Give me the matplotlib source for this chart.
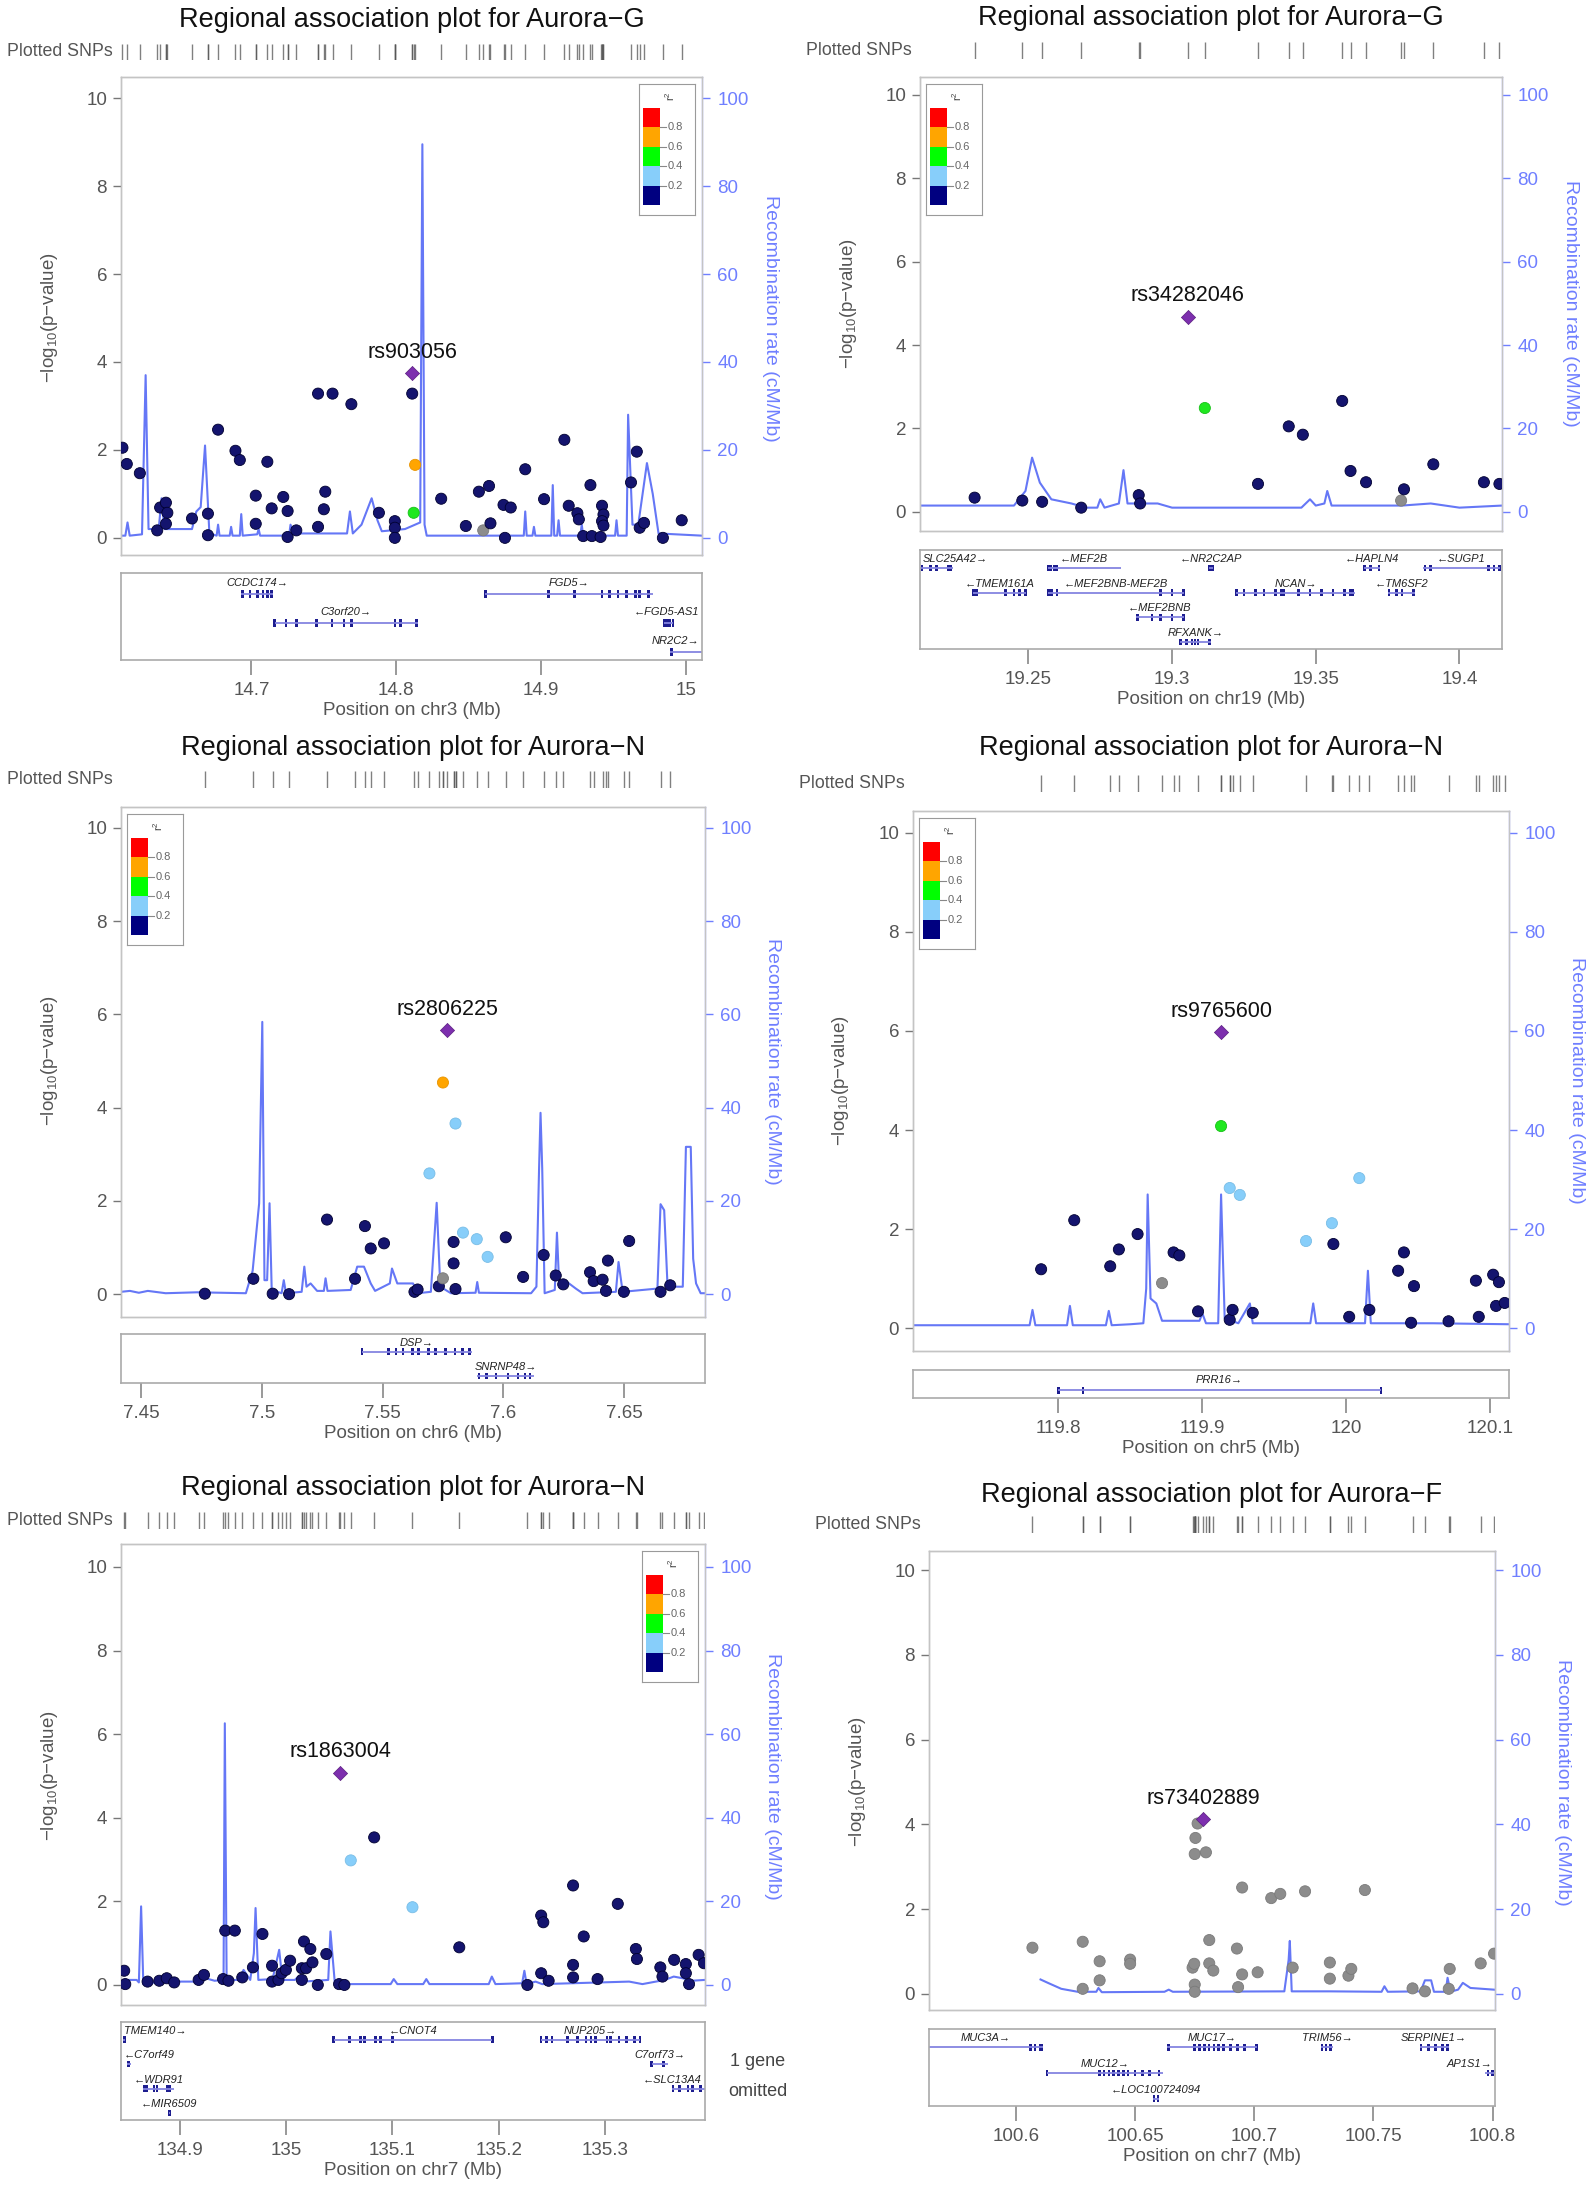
import matplotlib
matplotlib.use("Agg")
import matplotlib.pyplot as plt
from matplotlib.patches import Rectangle

plt.rcParams['font.family'] = ['Liberation Sans', 'DejaVu Sans']
plt.rcParams['mathtext.default'] = 'regular'

# ---------------- data ----------------
# panel 1: Aurora-G, chr3
p1_x = [14.611, 14.614, 14.623, 14.635, 14.637, 14.641, 14.642, 14.641, 14.659, 14.670, 14.670,
        14.677, 14.689, 14.692, 14.703, 14.703, 14.711, 14.714, 14.722, 14.725, 14.725, 14.731,
        14.746, 14.746, 14.750, 14.751, 14.756, 14.769, 14.788, 14.799, 14.799, 14.799, 14.811,
        14.813, 14.812, 14.831, 14.848, 14.860, 14.857, 14.864, 14.865, 14.874, 14.879, 14.875,
        14.889, 14.902, 14.916, 14.919, 14.925, 14.926, 14.929, 14.934, 14.935, 14.942, 14.943,
        14.942, 14.943, 14.941, 14.962, 14.966, 14.968, 14.971, 14.984, 14.997]
p1_y = [2.05, 1.68, 1.47, 0.17, 0.69, 0.80, 0.57, 0.32, 0.44, 0.55, 0.06,
        2.46, 1.98, 1.77, 0.96, 0.32, 1.73, 0.67, 0.93, 0.61, 0.02, 0.17,
        3.28, 0.25, 0.65, 1.05, 3.28, 3.04, 0.57, 0.38, 0.23, 0.00, 3.28,
        1.66, 0.57, 0.89, 0.27, 0.17, 1.05, 1.18, 0.33, 0.75, 0.69, 0.00,
        1.56, 0.88, 2.23, 0.73, 0.56, 0.42, 0.04, 1.20, 0.04, 0.73, 0.53,
        0.38, 0.28, 0.02, 1.26, 1.96, 0.23, 0.34, 0.00, 0.40]
p1_ld = "nnnnnnnnnnn" "nnnnnnnnnnn" "nnnnnnnnnnn" "ognnxnnnnnn" "nnnnnnnnnnn" "nnnnnnnnn"
p1_lead = (14.811, 3.74, "rs903056")
p1_rec_x = [14.610, 14.613, 14.6145, 14.616, 14.6245, 14.627, 14.629, 14.636, 14.638, 14.640,
            14.659, 14.662, 14.665, 14.668, 14.671, 14.676, 14.677, 14.678, 14.685, 14.686,
            14.687, 14.692, 14.693, 14.694, 14.704, 14.705, 14.706, 14.726, 14.727, 14.729,
            14.766, 14.768, 14.770, 14.776, 14.783, 14.787, 14.790, 14.806, 14.8165, 14.818,
            14.8195, 14.821, 14.888, 14.889, 14.890, 14.894, 14.895, 14.896, 14.907, 14.908,
            14.909, 14.911, 14.912, 14.913, 14.927, 14.928, 14.929, 14.951, 14.952, 14.953,
            14.959, 14.960, 14.963, 14.967, 14.970, 14.973, 14.977, 14.981, 15.011]
p1_rec_y = [0.5, 0.5, 3.5, 0.5, 0.8, 37, 2, 2, 9, 2,
            2, 6, 7, 21, 1, 0.5, 3, 0.5, 0.5, 2.5,
            0.5, 0.5, 5.4, 0.5, 0.8, 2, 0.5, 0.5, 3, 1,
            1, 6, 1, 3, 9, 4, 1.5, 2, 3.5, 89.5,
            3, 0.5, 0.5, 6, 0.5, 0.5, 2.5, 0.5, 0.5, 12,
            0.5, 0.5, 4, 0.5, 0.5, 3, 0.5, 0.5, 4, 0.5,
            0.5, 28, 3, 3, 10, 17, 10, 1, 0.5]
p1_genes = [
    ("CCDC174", 14.693, 14.715, 0, 1, [14.694, 14.699, 14.704, 14.708, 14.711, 14.714]),
    ("FGD5", 14.8615, 14.977, 0, 1, [14.8615, 14.905, 14.923, 14.942, 14.947, 14.953, 14.959, 14.965, 14.968, 14.974]),
    ("C3orf20", 14.716, 14.815, 1, 1, [14.716, 14.724, 14.731, 14.745, 14.7555, 14.764, 14.769, 14.799, 14.803, 14.814]),
    ("FGD5-AS1", 14.985, 14.991, 1, -1, [14.985, 14.987, 14.989, 14.991]),
    ("NR2C2", 14.989, 15.011, 2, 1, [14.990]),
]

# panel 2: Aurora-G, chr19
p2_x = [19.2313, 19.2479, 19.2548, 19.2684, 19.2884, 19.2889, 19.3299, 19.3406, 19.3455, 19.3592,
        19.3621, 19.3675, 19.3797, 19.3807, 19.3909, 19.4085, 19.4139, 19.3114]
p2_y = [0.34, 0.27, 0.24, 0.10, 0.40, 0.20, 0.67, 2.05, 1.85, 2.66,
        0.98, 0.71, 0.27, 0.54, 1.14, 0.71, 0.67, 2.49]
p2_ld = "nnnnnnnnnn" "nnxnnnng"
p2_lead = (19.3055, 4.68, "rs34282046")
p2_rec_x = [19.2123, 19.245, 19.249, 19.2513, 19.254, 19.258, 19.265, 19.270, 19.274, 19.275,
            19.2765, 19.2815, 19.2831, 19.2845, 19.295, 19.300, 19.345, 19.348, 19.350, 19.353,
            19.354, 19.3555, 19.361, 19.380, 19.390, 19.400, 19.4148]
p2_rec_y = [1.5, 1.5, 5, 13, 7, 3, 2, 1, 1, 3,
            1, 2, 10, 2, 2, 1, 1, 3, 1.5, 2,
            5, 1.5, 1.5, 1.5, 2, 1, 1.5]
p2_genes = [
    ("SLC25A42", 19.2123, 19.2239, 0, 1, [19.213, 19.216, 19.218, 19.222, 19.223]),
    ("MEF2B", 19.2568, 19.2821, 0, -1, [19.2570, 19.2578, 19.2590, 19.2600]),
    ("NR2C2AP", 19.3129, 19.3142, 0, -1, [19.3130, 19.3135, 19.3140]),
    ("HAPLN4", 19.3669, 19.3724, 0, -1, [19.367, 19.369, 19.372]),
    ("SUGP1", 19.3874, 19.4141, 0, -1, [19.388, 19.390, 19.410, 19.412, 19.414]),
    ("TMEM161A", 19.2308, 19.2492, 1, -1, [19.231, 19.232, 19.242, 19.245, 19.247, 19.249]),
    ("MEF2BNB-MEF2B", 19.2568, 19.3040, 1, -1, [19.257, 19.258, 19.260, 19.296, 19.300, 19.304]),
    ("NCAN", 19.3224, 19.3635, 1, 1, [19.3225, 19.325, 19.329, 19.332, 19.336, 19.338, 19.339,
                                      19.344, 19.348, 19.352, 19.356, 19.360, 19.362, 19.363]),
    ("TM6SF2", 19.3751, 19.3847, 1, -1, [19.3755, 19.378, 19.380, 19.384]),
    ("MEF2BNB", 19.2875, 19.3040, 2, -1, [19.288, 19.293, 19.296, 19.300, 19.304]),
    ("RFXANK", 19.3026, 19.3135, 3, 1, [19.303, 19.305, 19.307, 19.308, 19.309, 19.313]),
]

# panel 3: Aurora-N, chr6
p3_x = [7.4764, 7.4965, 7.5045, 7.5113, 7.5270, 7.5386, 7.5427, 7.5451, 7.5506, 7.5632,
        7.5645, 7.5694, 7.5733, 7.5750, 7.5750, 7.5802, 7.5794, 7.5794, 7.5802, 7.5833,
        7.5890, 7.5935, 7.6010, 7.6082, 7.6167, 7.6217, 7.6248, 7.6359, 7.6374, 7.6411,
        7.6433, 7.6425, 7.6499, 7.6521, 7.6651, 7.6691]
p3_y = [0.01, 0.33, 0.01, 0.00, 1.60, 0.33, 1.46, 0.98, 1.09, 0.05,
        0.10, 2.59, 0.17, 0.34, 4.54, 3.66, 1.12, 0.66, 0.11, 1.32,
        1.18, 0.80, 1.22, 0.37, 0.84, 0.40, 0.21, 0.47, 0.28, 0.31,
        0.72, 0.07, 0.05, 1.14, 0.05, 0.19]
p3_ld = "nnnnnnnnnn" "nbnxobnnnb" "bbnnnnnnnn" "nnnnnn"
p3_lead = (7.5768, 5.66, "rs2806225")
p3_rec_x = [7.4417, 7.4454, 7.4491, 7.4528, 7.4602, 7.4731, 7.4934, 7.4962, 7.4989, 7.5002,
            7.5011, 7.5022, 7.5032, 7.5041, 7.5082, 7.5091, 7.5100, 7.5165, 7.5176, 7.5185,
            7.5202, 7.5229, 7.5257, 7.5264, 7.5272, 7.5368, 7.5395, 7.5423, 7.5451, 7.5469,
            7.5530, 7.5539, 7.5561, 7.5626, 7.5645, 7.5700, 7.5724, 7.5739, 7.5783, 7.5885,
            7.5892, 7.5899, 7.6115, 7.6137, 7.6148, 7.6154, 7.6161, 7.6171, 7.6213, 7.6222,
            7.6231, 7.6254, 7.6300, 7.6328, 7.6466, 7.6477, 7.6494, 7.6638, 7.6651, 7.6666,
            7.6680, 7.6743, 7.6756, 7.6776, 7.6786, 7.6798, 7.6817, 7.6835]
p3_rec_y = [0.5, 0.7, 0.3, 0.7, 0.2, 0.4, 0.2, 5, 19.5, 58.4,
            3, 3, 19.5, 0.9, 0.2, 3, 0.2, 0.5, 5.9, 1.6,
            2.3, 0.7, 0.7, 3.4, 0.7, 0.9, 5.9, 5.9, 2.3, 0.7,
            2.3, 5.5, 2.3, 2.3, 0.2, 0.5, 19.6, 1.6, 0.2, 0.3,
            2.6, 0.3, 0.2, 1.6, 27, 38.9, 27, 0.2, 0.9, 13.2,
            2.3, 3, 1.2, 0.2, 0.5, 6.9, 0.5, 1.2, 19.3, 18,
            1.6, 1.6, 31.6, 31.6, 7.6, 2.3, 0.2, 0.2]
p3_genes = [
    ("DSP", 7.5415, 7.5869, 0, 1, [7.5415, 7.5525, 7.5555, 7.5585, 7.5625, 7.5650, 7.5690,
                                   7.5720, 7.5760, 7.5800, 7.5830, 7.5860]),
    ("SNRNP48", 7.5893, 7.6125, 1, 1, [7.590, 7.593, 7.597, 7.602, 7.606, 7.609, 7.611]),
]

# panel 4: Aurora-N, chr5
p4_x = [119.913, 119.919, 119.926, 120.009, 119.972, 119.990, 119.788, 119.811, 119.836, 119.842,
        119.855, 119.880, 119.884, 119.872, 119.897, 119.919, 119.921, 119.935, 119.991, 120.002,
        120.016, 120.040, 120.036, 120.047, 120.045, 120.071, 120.090, 120.092, 120.102, 120.106,
        120.104, 120.110]
p4_y = [4.08, 2.83, 2.69, 3.03, 1.76, 2.12, 1.19, 2.18, 1.25, 1.59,
        1.90, 1.53, 1.47, 0.91, 0.34, 0.17, 0.37, 0.31, 1.70, 0.23,
        0.37, 1.53, 1.16, 0.85, 0.11, 0.14, 0.96, 0.23, 1.08, 0.93,
        0.45, 0.51]
p4_ld = "gbbbbbnnnn" "nnnxnnnnnn" "nnnnnnnnnn" "nn"
p4_lead = (119.913, 5.98, "rs9765600")
p4_rec_x = [119.699, 119.748, 119.780, 119.782, 119.784, 119.806, 119.808, 119.810, 119.833, 119.835,
            119.837, 119.850, 119.859, 119.861, 119.862, 119.864, 119.868, 119.872, 119.898, 119.900,
            119.9025, 119.911, 119.913, 119.9155, 119.925, 119.933, 119.935, 119.975, 119.977, 119.979,
            120.013, 120.015, 120.017, 120.060, 120.113]
p4_rec_y = [0.6, 0.6, 0.6, 3.7, 0.6, 0.6, 4.5, 0.6, 0.6, 3.5,
            0.6, 0.8, 1, 8, 27, 6, 5, 1.5, 1.5, 3,
            1, 1, 27, 2, 1, 5, 1, 1, 5, 1,
            1, 11.6, 1, 1, 0.8]
p4_genes = [
    ("PRR16", 119.800, 120.024, 0, 1, [119.800, 119.817, 120.024]),
]

# panel 5: Aurora-N, chr7
p5_x = [134.848, 134.849, 134.870, 134.881, 134.888, 134.895, 134.918, 134.923, 134.941, 134.946,
        134.943, 134.952, 134.959, 134.969, 134.978, 134.987, 134.987, 134.993, 134.996, 135.000,
        135.004, 135.015, 135.015, 135.017, 135.019, 135.023, 135.025, 135.030, 135.038, 135.050,
        135.055, 135.061, 135.083, 135.119, 135.163, 135.227, 135.240, 135.240, 135.242, 135.247,
        135.270, 135.270, 135.270, 135.280, 135.293, 135.312, 135.329, 135.330, 135.352, 135.354,
        135.365, 135.376, 135.376, 135.379, 135.388, 135.393]
p5_y = [0.34, 0.02, 0.08, 0.10, 0.16, 0.06, 0.12, 0.24, 0.14, 0.10,
        1.30, 1.30, 0.18, 0.42, 1.22, 0.46, 0.08, 0.12, 0.28, 0.36,
        0.58, 0.40, 0.12, 1.04, 0.40, 0.86, 0.54, 0.00, 0.74, 0.02,
        0.00, 2.98, 3.53, 1.86, 0.90, 0.00, 0.28, 1.66, 1.50, 0.10,
        2.38, 0.48, 0.18, 1.16, 0.14, 1.94, 0.86, 0.62, 0.42, 0.20,
        0.60, 0.50, 0.28, 0.02, 0.72, 0.52]
p5_ld = "nnnnnnnnnn" "nnnnnnnnnn" "nnnnnnnnnn" "nbnbnnnnnn" "nnnnnnnnnn" "nnnnnn"
p5_lead = (135.051, 5.08, "rs1863004")
p5_rec_x = [134.845, 134.8597, 134.8618, 134.8639, 134.8660, 134.8827, 134.9162, 134.9246, 134.9330, 134.9414,
            134.9426, 134.9443, 134.9560, 134.9602, 134.9665, 134.9699, 134.9715, 134.9741, 134.9875, 134.9937,
            134.9967, 135.0084, 135.0118, 135.0168, 135.0398, 135.0419, 135.0461, 135.0985, 135.1014, 135.1048,
            135.1291, 135.1320, 135.1349, 135.1907, 135.1936, 135.1970, 135.2221, 135.2242, 135.2263, 135.2347,
            135.2410, 135.3227, 135.3352, 135.3562, 135.3646, 135.3730, 135.3813, 135.3939]
p5_rec_y = [1.2, 1.2, 0.6, 18.8, 0.2, 0.8, 0.8, 1.6, 1.0, 1.2,
            62.6, 1.2, 1.2, 3.6, 1.2, 7.6, 18.4, 1.2, 1.4, 8.4,
            1.2, 1.2, 2.0, 0.8, 1.2, 12.8, 0.2, 0.2, 1.4, 0.2,
            0.2, 1.4, 0.2, 0.2, 2.0, 0.2, 0.4, 3.4, 0.2, 0.8,
            0.2, 0.8, 0.2, 1.2, 2.0, 1.6, 1.0, 1.2]
p5_genes = [
    ("TMEM140", 134.847, 134.849, 0, 1, [134.848]),
    ("CNOT4", 135.045, 135.194, 0, -1, [135.045, 135.060, 135.070, 135.074, 135.084, 135.089, 135.100, 135.194]),
    ("NUP205", 135.240, 135.333, 0, 1, [135.240, 135.245, 135.250, 135.265, 135.274, 135.282, 135.287,
                                        135.291, 135.302, 135.305, 135.313, 135.320, 135.328, 135.333]),
    ("C7orf49", 134.851, 134.854, 1, -1, [134.852]),
    ("C7orf73", 135.344, 135.359, 1, 1, [135.344, 135.355]),
    ("WDR91", 134.866, 134.895, 2, -1, [134.867, 134.869, 134.876, 134.879, 134.889, 134.891]),
    ("SLC13A4", 135.363, 135.394, 2, -1, [135.364, 135.370, 135.378, 135.382, 135.390]),
    ("MIR6509", 134.890, 134.891, 3, -1, [134.8905]),
]

# panel 6: Aurora-F, chr7
p6_x = [100.6069, 100.6280, 100.6280, 100.6351, 100.6351, 100.6479, 100.6479, 100.6741, 100.6748, 100.6753,
        100.6750, 100.6797, 100.6762, 100.6750, 100.6750, 100.6811, 100.6811, 100.6828, 100.6927, 100.6932,
        100.6949, 100.6949, 100.7014, 100.7071, 100.7109, 100.7161, 100.7213, 100.7317, 100.7317, 100.7395,
        100.7407, 100.7464, 100.7664, 100.7716, 100.7816, 100.7820, 100.7950, 100.8006]
p6_y = [1.09, 1.23, 0.12, 0.77, 0.32, 0.81, 0.71, 0.62, 0.71, 3.68,
        3.30, 3.34, 4.02, 0.22, 0.05, 0.72, 1.27, 0.55, 1.07, 0.16,
        0.46, 2.51, 0.51, 2.26, 2.36, 0.62, 2.42, 0.74, 0.36, 0.43,
        0.59, 2.45, 0.13, 0.06, 0.12, 0.59, 0.72, 0.95]
p6_ld = "x" * 38
p6_lead = (100.6785, 4.12, "rs73402889")
p6_rec_x = [100.6103, 100.6138, 100.6190, 100.6259, 100.6337, 100.6346, 100.6360, 100.6623, 100.6641, 100.6658,
            100.7126, 100.7144, 100.7149, 100.7157, 100.7317, 100.7534, 100.7546, 100.7560, 100.7698, 100.7716,
            100.7742, 100.7754, 100.7803, 100.7811, 100.7823, 100.7855, 100.7875, 100.7907, 100.8006]
p6_rec_y = [3.4, 2.5, 1.2, 0.5, 0.5, 1.4, 0.4, 0.5, 1.0, 0.5,
            0.6, 8.0, 12.5, 0.6, 0.6, 0.5, 1.8, 0.5, 0.6, 3.2,
            3.2, 0.5, 0.5, 3.8, 0.5, 1.0, 2.6, 1.4, 1.0]
p6_genes = [
    ("MUC3A", 100.5635, 100.6113, 0, 1, [100.606, 100.608, 100.610, 100.611]),
    ("MUC17", 100.6632, 100.7013, 0, 1, [100.664, 100.675, 100.677, 100.679, 100.681, 100.683, 100.685,
                                         100.687, 100.690, 100.693, 100.696, 100.701]),
    ("TRIM56", 100.728, 100.733, 0, 1, [100.7285, 100.730, 100.732]),
    ("SERPINE1", 100.7694, 100.7815, 0, 1, [100.770, 100.773, 100.776, 100.779, 100.781]),
    ("MUC12", 100.613, 100.6616, 1, 1, [100.613, 100.635, 100.637, 100.639, 100.641, 100.643, 100.645,
                                        100.647, 100.650, 100.653, 100.656, 100.660]),
    ("AP1S1", 100.797, 100.801, 1, 1, [100.798, 100.800]),
    ("LOC100724094", 100.6575, 100.660, 2, -1, [100.658, 100.6595]),
]

# ---------------- layout (pixels) ----------------
W, H = 1595, 2202
fig = plt.figure(figsize=(W / 100, H / 100), dpi=100)

LD_COLORS = {'n': '#14146e', 'b': '#87cefa', 'g': '#1fe81f', 'o': '#ffa500', 'r': '#ff0000', 'x': '#8c8c8c'}
LD_EDGE = {'n': '#000030', 'b': '#79bde6', 'g': '#18c018', 'o': '#e89400', 'r': '#d00000', 'x': '#7a7a7a'}
LEG_COLORS = ['#ff0000', '#ffa500', '#00ff00', '#87cefa', '#000080']
REC = '#5468f5'
REC_AX = '#6f7fff'
GRAY = '#555555'


def ax_px(x0, y0, x1, y1):
    return fig.add_axes([x0 / W, 1 - y1 / H, (x1 - x0) / W, (y1 - y0) / H])


panels = [
    dict(x=p1_x, y=p1_y, ld=p1_ld, lead=p1_lead, rx=p1_rec_x, ry=p1_rec_y, genes=p1_genes, nrows=3,
         title="Regional association plot for Aurora\u2212G", chrom="chr3",
         xlim=(14.610, 15.011), xticks=[14.7, 14.8, 14.9, 15.0],
         box=(121, 77, 702, 555), ylim=(-0.39, 10.48), rug=(44, 60), gene=(573, 660), title_y=20, legend='right'),
    dict(x=p2_x, y=p2_y, ld=p2_ld, lead=p2_lead, rx=p2_rec_x, ry=p2_rec_y, genes=p2_genes, nrows=4,
         title="Regional association plot for Aurora\u2212G", chrom="chr19",
         xlim=(19.2123, 19.4148), xticks=[19.25, 19.3, 19.35, 19.4],
         box=(920, 77, 1502, 531), ylim=(-0.46, 10.43), rug=(42, 59), gene=(550, 649), title_y=18, legend='left'),
    dict(x=p3_x, y=p3_y, ld=p3_ld, lead=p3_lead, rx=p3_rec_x, ry=p3_rec_y, genes=p3_genes, nrows=2,
         title="Regional association plot for Aurora\u2212N", chrom="chr6",
         xlim=(7.4417, 7.6835), xticks=[7.45, 7.5, 7.55, 7.6, 7.65],
         box=(121, 807, 705, 1317), ylim=(-0.49, 10.45), rug=(771, 788), gene=(1334, 1383), title_y=748, legend='left'),
    dict(x=p4_x, y=p4_y, ld=p4_ld, lead=p4_lead, rx=p4_rec_x, ry=p4_rec_y, genes=p4_genes, nrows=1,
         title="Regional association plot for Aurora\u2212N", chrom="chr5",
         xlim=(119.699, 120.113), xticks=[119.8, 119.9, 120.0, 120.1],
         box=(913, 811, 1509, 1351), ylim=(-0.46, 10.44), rug=(775, 792), gene=(1370, 1398), title_y=748, legend='left'),
    dict(x=p5_x, y=p5_y, ld=p5_ld, lead=p5_lead, rx=p5_rec_x, ry=p5_rec_y, genes=p5_genes, nrows=4,
         title="Regional association plot for Aurora\u2212N", chrom="chr7",
         xlim=(134.845, 135.394), xticks=[134.9, 135.0, 135.1, 135.2, 135.3],
         box=(121, 1544, 705, 2005), ylim=(-0.48, 10.55), rug=(1512, 1529), gene=(2022, 2120), title_y=1488, legend='right'),
    dict(x=p6_x, y=p6_y, ld=p6_ld, lead=p6_lead, rx=p6_rec_x, ry=p6_rec_y, genes=p6_genes, nrows=3,
         title="Regional association plot for Aurora\u2212F", chrom="chr7",
         xlim=(100.5635, 100.801), xticks=[100.6, 100.65, 100.7, 100.75, 100.8],
         box=(929, 1551, 1495, 2010), ylim=(-0.38, 10.45), rug=(1516, 1533), gene=(2029, 2106), title_y=1495, legend=None),
]

gene_texts = []

for p in panels:
    L, T, R, B = p['box']
    y0, y1 = p['ylim']
    # main axes
    ax = ax_px(L, T, R, B)
    ax2 = ax.twinx()
    ax.set_zorder(ax2.get_zorder() + 1)
    ax.patch.set_visible(False)
    ax.set_xlim(p['xlim'])
    ax.set_ylim(y0, y1)
    ax2.set_ylim(y0 * 10, y1 * 10)
    ax.set_xticks([])
    ax.set_yticks([0, 2, 4, 6, 8, 10])
    ax.tick_params(axis='y', colors='#777777', labelcolor=GRAY, labelsize=13.5, length=6, width=1, pad=4)
    ax2.set_yticks([0, 20, 40, 60, 80, 100])
    ax2.tick_params(axis='y', colors=REC_AX, labelcolor=REC_AX, labelsize=13.5, length=6, width=1, pad=5)
    for a in (ax, ax2):
        for s in a.spines.values():
            s.set_color('#c4c4c4')
            s.set_linewidth(1.0)
    ax2.spines['right'].set_color('#a9b2ff')
    ax2.plot(p['rx'], p['ry'], color=REC, lw=1.5, alpha=0.9)

    cols = [LD_COLORS[c] for c in p['ld']]
    edges = [LD_EDGE[c] for c in p['ld']]
    ax.scatter(p['x'], p['y'], s=64, c=cols, edgecolors=edges, linewidths=0.6, zorder=3)
    lx, ly, lname = p['lead']
    ax.scatter([lx], [ly], s=52, marker='D', c='#7d2fae', edgecolors='#5a1f80', linewidths=0.5, zorder=4)
    ax.annotate(lname, (lx, ly), xytext=(0, 15), textcoords='offset points', ha='center', va='center',
                fontsize=15.5, color='#111111', zorder=5)

    # axis labels
    yc0 = ax.transData.transform((p['xlim'][0], 0))[1]
    yc1 = ax.transData.transform((p['xlim'][0], 10))[1]
    ymid = (yc0 + yc1) / 2 / H
    fig.text((L - 72) / W, ymid, '\u2212log$_{10}$(p\u2212value)', rotation=90, ha='center', va='center',
             fontsize=13.5, color=GRAY)
    fig.text((R + 68) / W, ymid, 'Recombination rate (cM/Mb)', rotation=270, ha='center', va='center',
             fontsize=14, color=REC_AX)

    # title
    fig.text((L + R) / 2 / W, 1 - p['title_y'] / H, p['title'], ha='center', va='center',
             fontsize=19.5, color='#111111')

    # plotted SNPs rug
    rt, rb = p['rug']
    rax = ax_px(L, rt, R, rb)
    rax.set_xlim(p['xlim'])
    rax.set_ylim(0, 1)
    rax.axis('off')
    rax.vlines(list(p['x']) + [lx], 0, 1, color='#555555', lw=1.0, alpha=0.75)
    fig.text((L - 8) / W, 1 - (rt + rb) / 2 / H, 'Plotted SNPs', ha='right', va='center',
             fontsize=12.8, color=GRAY)

    # legend
    if p['legend']:
        lw_, lh_ = 56, 131
        lx0 = L + 6 if p['legend'] == 'left' else R - 7 - lw_
        lax = ax_px(lx0, T + 7, lx0 + lw_, T + 7 + lh_)
        lax.set_xlim(0, 1)
        lax.set_ylim(0, 1)
        lax.set_xticks([])
        lax.set_yticks([])
        for s in lax.spines.values():
            s.set_color('#9a9a9a')
        bh = 0.148
        for i, c in enumerate(LEG_COLORS):
            top = 0.817 - i * bh
            lax.add_patch(Rectangle((0.07, top - bh), 0.31, bh, color=c, lw=0))
        for i, lab in enumerate(['0.8', '0.6', '0.4', '0.2']):
            yb = 0.817 - (i + 1) * bh
            lax.plot([0.38, 0.48], [yb, yb], color='#888888', lw=0.8)
            lax.text(0.52, yb, lab, ha='left', va='center', fontsize=8, color='#666666')
        lax.text(0.55, 0.91, 'r$^2$', rotation=90, ha='center', va='center', fontsize=8, color='#444444')

    # gene track
    gt, gb = p['gene']
    gax = ax_px(L, gt, R, gb)
    gax.set_xlim(p['xlim'])
    gax.set_ylim(p['nrows'], 0)
    gax.set_yticks([])
    gax.set_xticks(p['xticks'])
    gax.set_xticklabels(['%g' % v for v in p['xticks']])
    gax.tick_params(axis='x', colors='#888888', labelcolor=GRAY, labelsize=13.5, length=11, width=1.2, pad=5)
    for s in gax.spines.values():
        s.set_color('#aaaaaa')
        s.set_linewidth(1.2)
    gax.set_xlabel('Position on %s (Mb)' % p['chrom'], fontsize=13.5, color=GRAY, labelpad=2)
    span = p['xlim'][1] - p['xlim'][0]
    for name, gs, ge, row, strand, exons in p['genes']:
        yl = row + 0.72
        gax.plot([gs, ge], [yl, yl], color='#8585e0', lw=1.3, solid_capstyle='butt')
        w = 0.0045 * span
        for e in exons:
            gax.add_patch(Rectangle((e - w / 2, yl - 0.13), w, 0.26, color='#1d1d8f', lw=0))
        label = name + '\u2192' if strand > 0 else '\u2190' + name
        t = gax.text((gs + ge) / 2, row + 0.36, label, ha='center', va='center', fontsize=8,
                     style='italic', color='#222222')
        gene_texts.append((gax, t))

fig.text(758 / W, 1 - 2061 / H, '1 gene', ha='center', va='center', fontsize=13, color='#444444')
fig.text(758 / W, 1 - 2092 / H, 'omitted', ha='center', va='center', fontsize=13, color='#444444')

# keep gene labels inside their track boxes
fig.canvas.draw()
renderer = fig.canvas.get_renderer()
for gax, t in gene_texts:
    bb = t.get_window_extent(renderer)
    ab = gax.get_window_extent(renderer)
    dx = 0
    if bb.x1 > ab.x1 - 3:
        dx = ab.x1 - 3 - bb.x1
    elif bb.x0 < ab.x0 + 3:
        dx = ab.x0 + 3 - bb.x0
    if dx:
        xd, yd = t.get_position()
        disp = gax.transData.transform((xd, yd))
        nx = gax.transData.inverted().transform((disp[0] + dx, disp[1]))[0]
        t.set_x(nx)

fig.savefig('out.png', dpi=100)
